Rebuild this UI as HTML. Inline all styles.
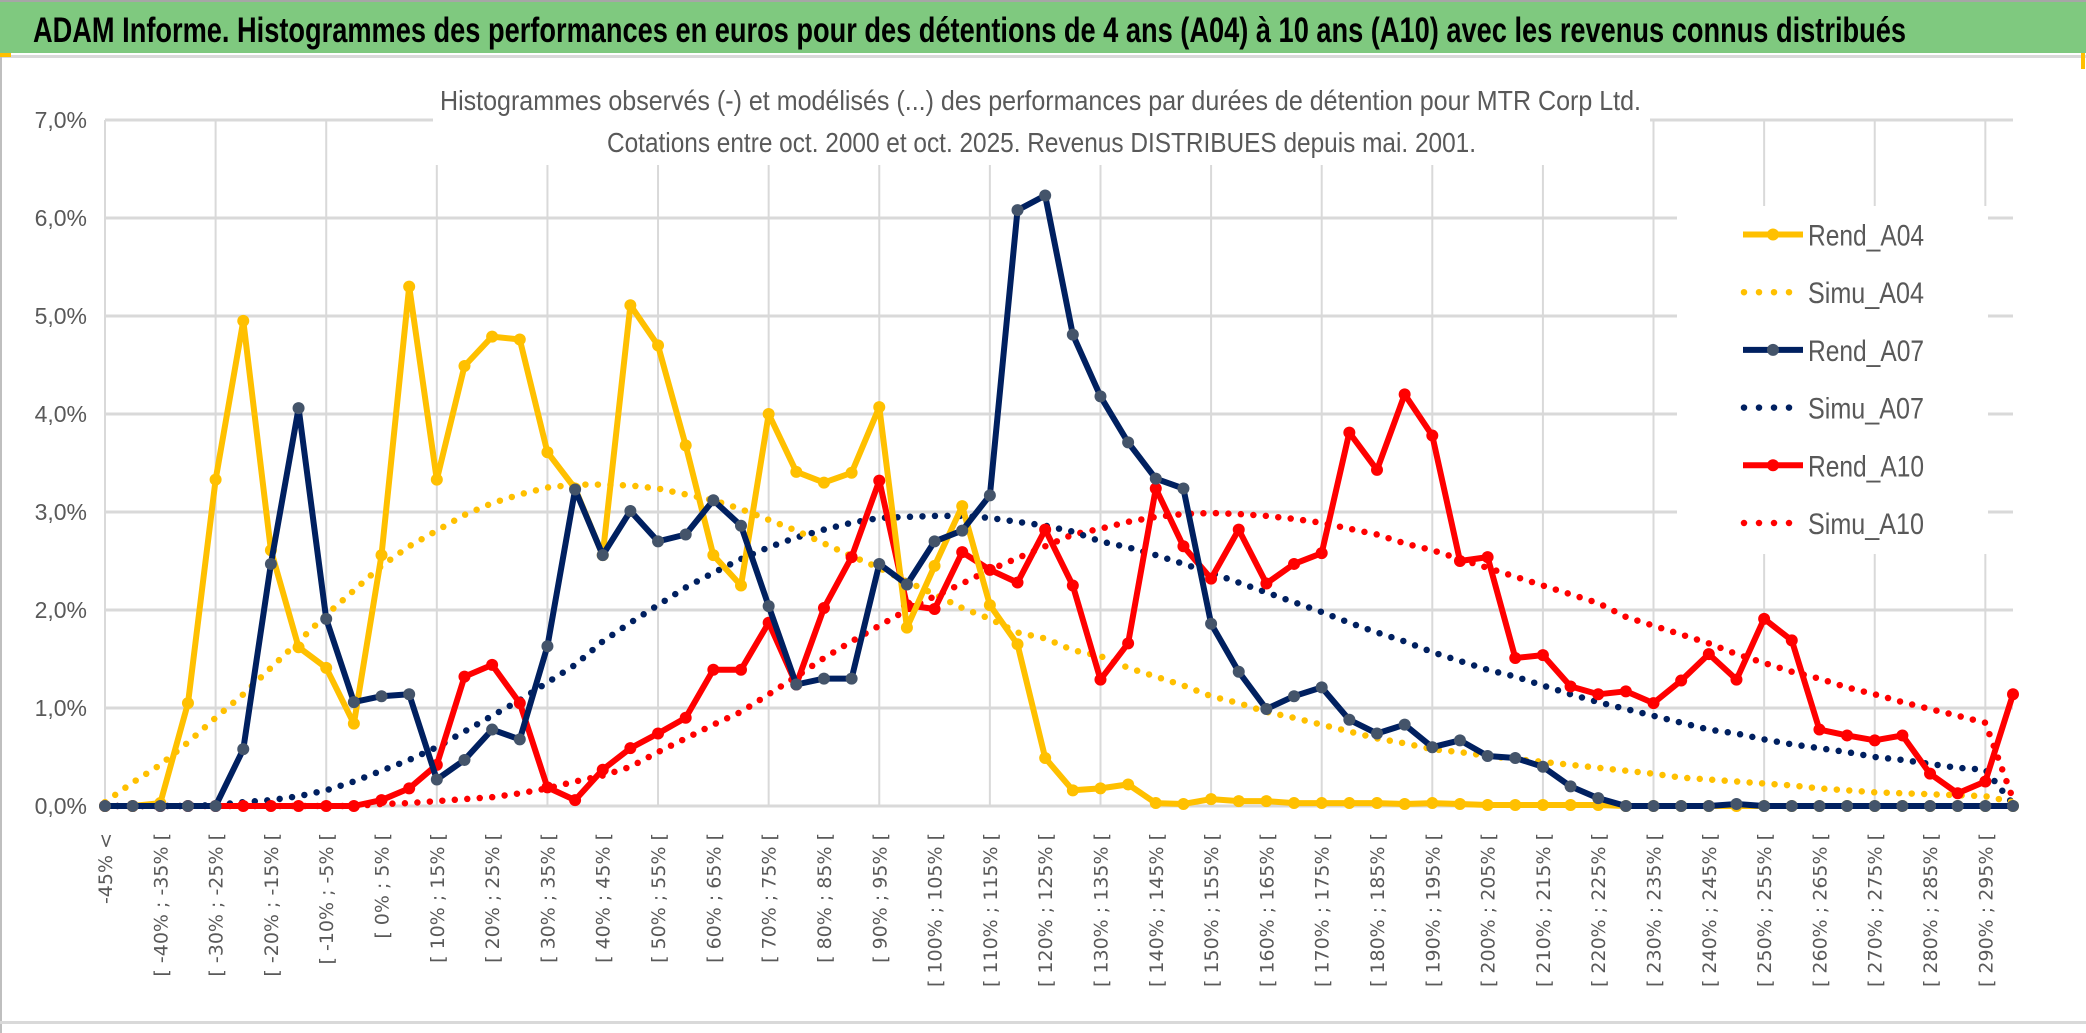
<!DOCTYPE html>
<html><head><meta charset="utf-8"><style>
html,body{margin:0;padding:0;background:#fff;}
svg{display:block;}
</style></head><body>
<svg id="chart" width="2086" height="1033" viewBox="0 0 2086 1033" xmlns="http://www.w3.org/2000/svg">
<rect x="0" y="0" width="2086" height="1033" fill="#fff"/>
<rect x="0" y="2" width="2086" height="51" fill="#7fc97f"/>
<rect x="0" y="0" width="2086" height="2" fill="#a6a6a6"/>
<rect x="0" y="55" width="2086" height="3" fill="#d9d9d9"/>
<rect x="0" y="55" width="2" height="978" fill="#bfbfbf"/>
<rect x="0" y="1021" width="2086" height="3" fill="#d9d9d9"/>
<rect x="0" y="53" width="11" height="4" fill="#ffc000"/>
<rect x="2081" y="53" width="4" height="16" fill="#ffc000"/>
<text x="33" y="42" textLength="1873" lengthAdjust="spacingAndGlyphs" font-family="Liberation Sans Narrow, Liberation Sans, sans-serif" font-weight="bold" font-size="35" fill="#000">ADAM Informe. Histogrammes des performances en euros pour des détentions de 4 ans (A04) à 10 ans (A10) avec les revenus connus distribués</text>
<g id="grid"></g>
<rect x="433" y="60" width="1217" height="105" fill="#fff"/>
<text x="440" y="110" textLength="1201" lengthAdjust="spacingAndGlyphs" font-family="Liberation Sans Narrow, Liberation Sans, sans-serif" font-size="28" fill="#595959">Histogrammes observés (-) et modélisés (...) des performances par durées de détention pour MTR Corp Ltd.</text>
<text x="607" y="152" textLength="869" lengthAdjust="spacingAndGlyphs" font-family="Liberation Sans Narrow, Liberation Sans, sans-serif" font-size="28" fill="#595959">Cotations entre oct. 2000 et oct. 2025. Revenus DISTRIBUES depuis mai. 2001.</text>
<g id="yaxis"></g>
<g id="xaxis"></g>
<rect x="1677" y="206" width="311" height="348" fill="#fff"/>
<g id="series"></g>
<g id="legend"></g>
</svg>
<script>
const categories = (function(){const c=["-45% <"];for(let a=-45;a<300;a+=5){c.push("[ "+a+"% ; "+(a+5)+"% [");}return c;})();
const yTicks = ["0,0%","1,0%","2,0%","3,0%","4,0%","5,0%","6,0%","7,0%"];
const rendA04 = [0,0,0.03,1.05,3.33,4.95,2.61,1.62,1.41,0.84,2.56,5.30,3.33,4.49,4.79,4.76,3.61,3.24,2.56,5.11,4.70,3.68,2.56,2.25,4.00,3.41,3.30,3.40,4.07,1.82,2.45,3.06,2.05,1.65,0.49,0.16,0.18,0.22,0.03,0.02,0.07,0.05,0.05,0.03,0.03,0.03,0.03,0.02,0.03,0.02,0.01,0.01,0.01,0.01,0.01,0,0,0,0,0,0,0,0,0,0,0,0,0,0,0];
const simuA04 = [0.04,0.24,0.42,0.65,0.90,1.14,1.41,1.68,1.95,2.20,2.45,2.65,2.81,2.97,3.09,3.18,3.25,3.28,3.28,3.27,3.24,3.18,3.12,3.03,2.92,2.81,2.68,2.55,2.43,2.29,2.16,2.02,1.91,1.77,1.71,1.59,1.53,1.41,1.32,1.23,1.12,1.05,0.96,0.90,0.83,0.76,0.69,0.64,0.58,0.55,0.51,0.48,0.45,0.42,0.39,0.36,0.33,0.29,0.27,0.25,0.23,0.21,0.18,0.16,0.14,0.13,0.12,0.11,0.10,0.04];
const rendA07 = [0,0,0,0,0,0.58,2.47,4.06,1.91,1.06,1.12,1.14,0.27,0.47,0.78,0.68,1.63,3.23,2.56,3.01,2.70,2.77,3.12,2.86,2.04,1.24,1.30,1.30,2.47,2.26,2.70,2.81,3.17,6.08,6.23,4.81,4.18,3.71,3.34,3.24,1.86,1.37,0.99,1.12,1.21,0.88,0.74,0.83,0.60,0.67,0.51,0.49,0.40,0.20,0.08,0,0,0,0,0.02,0,0,0,0,0,0,0,0,0,0];
const simuA07 = [0,0,0,0,0.01,0.04,0.06,0.10,0.16,0.25,0.36,0.47,0.60,0.76,0.92,1.08,1.26,1.44,1.68,1.87,2.05,2.23,2.38,2.52,2.64,2.74,2.82,2.89,2.94,2.95,2.96,2.96,2.94,2.90,2.86,2.80,2.70,2.64,2.56,2.47,2.38,2.28,2.18,2.08,1.98,1.87,1.77,1.68,1.57,1.48,1.39,1.32,1.23,1.14,1.06,0.99,0.92,0.85,0.78,0.74,0.68,0.63,0.59,0.55,0.50,0.47,0.43,0.39,0.37,0.02];
const rendA10 = [0,0,0,0,0,0,0,0,0,0,0.06,0.18,0.42,1.32,1.44,1.05,0.19,0.06,0.37,0.59,0.74,0.90,1.39,1.39,1.87,1.24,2.02,2.54,3.32,2.05,2.01,2.59,2.41,2.28,2.82,2.25,1.29,1.66,3.24,2.65,2.32,2.82,2.27,2.47,2.58,3.81,3.43,4.20,3.78,2.50,2.54,1.51,1.54,1.22,1.14,1.17,1.05,1.28,1.55,1.29,1.91,1.69,0.78,0.72,0.67,0.72,0.33,0.13,0.25,1.14];
const simuA10 = [0,0,0,0,0,0,0,0,0,0,0.02,0.03,0.05,0.07,0.09,0.13,0.18,0.25,0.31,0.40,0.55,0.69,0.83,0.96,1.14,1.32,1.51,1.68,1.84,2.00,2.14,2.27,2.41,2.53,2.65,2.77,2.83,2.90,2.95,2.98,2.99,2.98,2.96,2.93,2.89,2.83,2.77,2.68,2.61,2.52,2.43,2.34,2.25,2.16,2.07,1.93,1.84,1.75,1.66,1.55,1.46,1.37,1.30,1.21,1.14,1.06,0.99,0.92,0.85,0.07];

const NS="http://www.w3.org/2000/svg";
const X0=105, X1=2013, Y0=806, Y7=120;
function xPos(i){return X0+(X1-X0)*i/(categories.length-1);}
function yPos(v){return Y0-(Y0-Y7)*v/7;}
function mk(tag,attrs,parent){const e=document.createElementNS(NS,tag);for(const k in attrs)e.setAttribute(k,attrs[k]);parent.appendChild(e);return e;}

const grid=document.getElementById('grid');
yTicks.forEach((t,k)=>{
  const l=mk('line',{x1:X0,x2:X1,y1:yPos(k),y2:yPos(k),stroke:'#d9d9d9','stroke-width':3},grid);
  
  
});
for(let i=0;i<categories.length;i+=4){
  const l=mk('line',{x1:xPos(i),x2:xPos(i),y1:Y7,y2:Y0,stroke:'#d9d9d9','stroke-width':2},grid);
  
  
}
const yax=document.getElementById('yaxis');
yTicks.forEach((t,k)=>{
  const tx=mk('text',{x:87,y:yPos(k)+8,'text-anchor':'end','font-family':'Liberation Sans Narrow, Liberation Sans, sans-serif','font-size':23,fill:'#595959'},yax);
  tx.textContent=t;
  
  
});
const xax=document.getElementById('xaxis');
for(let i=0;i<categories.length;i+=2){
  const x=xPos(i)+7,y=833;
  const tx=mk('text',{x:x,y:y,transform:'rotate(-90 '+x+' '+y+')','text-anchor':'end','font-family':'DejaVu Sans, sans-serif','font-size':19,fill:'#595959','xml:space':'preserve'},xax);
  tx.textContent=categories[i];
  
  
}
const ser=document.getElementById('series');
function pts(arr){return arr.map((v,i)=>xPos(i).toFixed(1)+','+yPos(v).toFixed(1)).join(' ');}
function dotted(arr,color,name){
  const p=mk('polyline',{points:pts(arr),fill:'none',stroke:color,'stroke-width':6.5,'stroke-linecap':'round','stroke-dasharray':'0 12.5'},ser);
  
  
}
function solid(arr,color,mcolor,name){
  const g=mk('g',{},ser);
  
  
  mk('polyline',{points:pts(arr),fill:'none',stroke:color,'stroke-width':6,'stroke-linejoin':'round'},g);
  arr.forEach((v,i)=>{
    const c=mk('circle',{cx:xPos(i),cy:yPos(v),r:6,fill:mcolor},g);
    
    
  });
}
dotted(simuA10,'#ff0000','simu-a10-line');
dotted(simuA07,'#002060','simu-a07-line');
dotted(simuA04,'#ffc000','simu-a04-line');
solid(rendA10,'#ff0000','#ff0000','rend-a10-line');
solid(rendA04,'#ffc000','#ffc000','rend-a04-line');
solid(rendA07,'#002060','#44546a','rend-a07-line');

const leg=document.getElementById('legend');
const legendItems=[["Rend_A04","#ffc000","#ffc000",false],["Simu_A04","#ffc000","",true],["Rend_A07","#002060","#44546a",false],["Simu_A07","#002060","",true],["Rend_A10","#ff0000","#ff0000",false],["Simu_A10","#ff0000","",true]];
legendItems.forEach((it,k)=>{
  const y=234.5+57.7*k;
  const g=mk('g',{},leg);
  
  
  if(it[3]){
    mk('line',{x1:1744,x2:1790,y1:y,y2:y,stroke:it[1],'stroke-width':6.5,'stroke-linecap':'round','stroke-dasharray':'0 15'},g);
  }else{
    mk('line',{x1:1743,x2:1803,y1:y,y2:y,stroke:it[1],'stroke-width':6},g);
    mk('circle',{cx:1773,cy:y,r:6,fill:it[2]},g);
  }
  const tx=mk('text',{x:1808,y:y+11,textLength:116,lengthAdjust:'spacingAndGlyphs','font-family':'Liberation Sans Narrow, Liberation Sans, sans-serif','font-size':30,fill:'#595959'},g);
  tx.textContent=it[0];
});
</script>
</body></html>
